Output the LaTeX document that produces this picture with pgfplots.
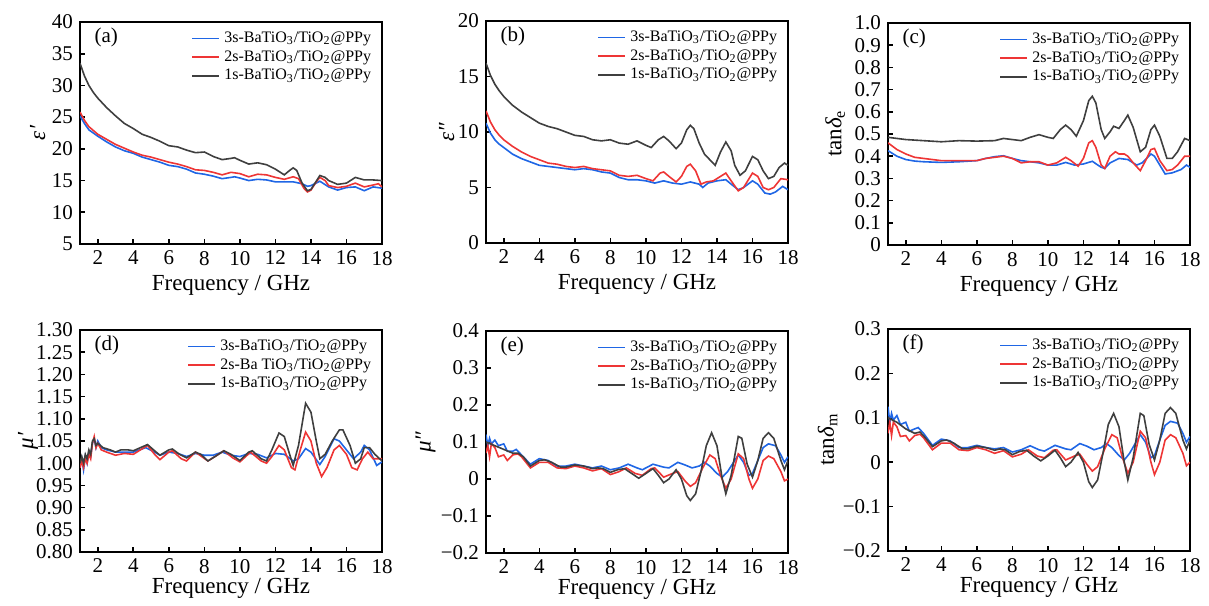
\documentclass[border=0pt]{standalone}
\usepackage{fontspec}
\setmainfont{Liberation Serif}
\usepackage{pgfplots}
\pgfplotsset{compat=1.18}
\definecolor{cblue}{HTML}{1F66E5}
\definecolor{cred}{HTML}{EE3535}
\definecolor{cgray}{HTML}{3F3F3F}
\pgfplotsset{
 panel/.style={
  scale only axis,width=151pt,height=111pt,
  xmin=1,xmax=18,xtick={2,4,...,18},
  axis line style={line width=0.9pt},
  tick align=inside,tick pos=left,major tick length=2.5pt,
  every tick/.style={line width=0.8pt,black},
  tick label style={font=\fontsize{10.5}{12}\selectfont},
  /pgf/number format/assume math mode=true,
  xlabel={Frequency / GHz},
  xlabel style={font=\fontsize{11.5}{13}\selectfont,at={(axis description cs:0.5,-0.165)},anchor=center},
  ylabel style={font=\fontsize{11.5}{13}\selectfont,anchor=center},
  legend style={at={(0.985,0.985)},anchor=north east,draw=none,
    font=\fontsize{8}{9}\selectfont,row sep=-1.5pt,inner sep=1pt},
  legend cell align=left,
  every axis plot/.append style={line width=0.8pt},
 },
 toprow/.style={xlabel style={at={(axis description cs:0.5,-0.185)}}},
}
\newcommand{\lab}[1]{\node[anchor=west,font=\fontsize{10.5}{12}\selectfont] at (rel axis cs:0.025,0.93) {#1};}
\newcommand{\ent}[1]{#1s-BaTiO\textsubscript{3}/TiO\textsubscript{2}@PPy}
\newcommand{\sub}[1]{\raisebox{-0.35ex}{\fontsize{8}{8}\selectfont #1}}
% legend lines: stroke colour written straight into the page, past the colour stack
\makeatletter
\newcommand{\limg}[3]{\addlegendimage{legend image code/.code={%
  \pgfsys@color@rgb@stroke{#1}{#2}{#3}\pgfsetlinewidth{0.9pt}%
  \pgfpathmoveto{\pgfpointorigin}\pgfpathlineto{\pgfpoint{13.5pt}{0pt}}%
  \pgfusepath{stroke}}}}
\makeatother
\newcommand{\keys}{\limg{0.122}{0.4}{0.898}\limg{0.933}{0.208}{0.208}\limg{0.247}{0.247}{0.247}}

\begin{document}
\begin{tikzpicture}
\path[use as bounding box] (0,0) rectangle (604.5pt,-302.5pt);

% (a) real permittivity
\begin{axis}[panel,toprow,at={(40pt,-11pt)},anchor=north west,
 ymin=5,ymax=40,ytick={5,10,...,40},
 ylabel={\itshape ε′},ylabel style={at={(axis description cs:-0.14,0.5)}}]
\keys
\addplot[color=cblue] coordinates {(1,25.2)(1.25,24)(1.5,23)(1.75,22.5)(2,22)(2.5,21.1)(3,20.3)(3.5,19.7)(4,19.3)(4.5,18.7)(5,18.3)(5.5,17.9)(6,17.4)(6.5,17.2)(7,16.8)(7.5,16.2)(8,16)(8.5,15.7)(9,15.3)(9.5,15.5)(9.7,15.6)(10,15.4)(10.5,15.0)(11,15.2)(11.5,15.1)(12,14.8)(12.5,14.8)(13,14.8)(13.5,14.5)(13.8,14.1)(14,14.2)(14.5,14.9)(15,14.0)(15.5,13.5)(16,13.9)(16.5,14.0)(17,13.4)(17.5,14.0)(18,13.8)};
\addplot[color=cred] coordinates {(1,25.8)(1.25,24.5)(1.5,23.5)(1.75,22.9)(2,22.3)(2.5,21.5)(3,20.7)(3.5,20.1)(4,19.5)(4.5,19)(5,18.7)(5.5,18.3)(6,17.9)(6.5,17.6)(7,17.2)(7.5,16.7)(8,16.6)(8.5,16.3)(9,15.9)(9.5,16.3)(10,16.1)(10.5,15.6)(11,16.0)(11.5,15.9)(12,15.5)(12.5,15.2)(13,15.6)(13.3,15.3)(13.6,13.8)(13.8,13.2)(14,13.5)(14.3,14.8)(14.5,15.5)(14.8,15.0)(15,14.2)(15.5,13.9)(16,14.1)(16.5,14.6)(17,14.0)(17.5,14.3)(17.8,14.5)(18,14.0)};
\addplot[color=cgray] coordinates {(1,33.5)(1.25,31.5)(1.5,30)(1.75,28.9)(2,28)(2.5,26.5)(3,25.2)(3.5,24)(4,23.2)(4.5,22.3)(5,21.8)(5.5,21.2)(6,20.5)(6.5,20.3)(7,19.8)(7.5,19.4)(8,19.5)(8.5,18.8)(9,18.3)(9.5,18.5)(9.7,18.6)(10,18.2)(10.5,17.6)(11,17.8)(11.5,17.5)(12,16.8)(12.5,15.9)(12.8,16.6)(13,17.0)(13.2,16.6)(13.5,14.6)(13.8,13.4)(14,13.6)(14.3,14.9)(14.5,15.8)(14.8,15.5)(15,15.0)(15.5,14.4)(16,14.6)(16.5,15.5)(17,15.1)(17.5,15.1)(18,15.0)};
\legend{\ent{3},\ent{2},\ent{1}}
\lab{(a)}
\end{axis}

% (b) imaginary permittivity
\begin{axis}[panel,toprow,at={(243pt,-10.5pt)},anchor=north west,
 ymin=0,ymax=20,ytick={0,5,...,20},
 ylabel={\itshape ε″},ylabel style={at={(axis description cs:-0.13,0.5)}}]
\keys
\addplot[color=cblue] coordinates {(1,10.8)(1.25,9.9)(1.5,9.3)(1.75,8.9)(2,8.6)(2.5,8.0)(3,7.6)(3.5,7.3)(4,7.0)(4.5,6.9)(5,6.8)(5.5,6.7)(6,6.6)(6.5,6.7)(7,6.6)(7.5,6.4)(8,6.3)(8.5,5.9)(9,5.7)(9.5,5.7)(10,5.6)(10.5,5.4)(11,5.6)(11.5,5.4)(12,5.3)(12.5,5.5)(13,5.3)(13.2,5.0)(13.5,5.4)(14,5.6)(14.5,5.7)(14.8,5.3)(15.2,4.8)(15.5,5.0)(16,5.6)(16.3,5.3)(16.7,4.5)(17,4.4)(17.3,4.6)(17.7,5.1)(18,4.8)};
\addplot[color=cred] coordinates {(1,11.9)(1.25,10.9)(1.5,10.2)(1.75,9.7)(2,9.3)(2.5,8.7)(3,8.2)(3.5,7.8)(4,7.5)(4.5,7.2)(5,7.1)(5.5,6.9)(6,6.8)(6.5,6.9)(7,6.7)(7.5,6.6)(8,6.5)(8.5,6.1)(9,6.0)(9.5,6.1)(10,5.8)(10.4,5.6)(10.8,6.3)(11,6.4)(11.3,6.0)(11.7,5.5)(12,6.0)(12.3,6.9)(12.5,7.1)(12.8,6.5)(13.1,5.3)(13.4,5.5)(13.8,5.6)(14.2,6.0)(14.5,6.3)(14.8,5.6)(15.2,4.7)(15.5,5.0)(16,6.3)(16.3,6.0)(16.6,5.0)(16.9,4.8)(17.2,5.0)(17.6,5.8)(18,5.7)};
\addplot[color=cgray] coordinates {(1,16.2)(1.25,15.1)(1.5,14.3)(1.75,13.7)(2,13.2)(2.5,12.4)(3,11.8)(3.5,11.3)(4,10.8)(4.5,10.5)(5,10.3)(5.5,10.0)(6,9.7)(6.5,9.6)(7,9.3)(7.5,9.2)(8,9.3)(8.5,9.0)(9,8.9)(9.5,9.2)(10,8.8)(10.3,8.6)(10.7,9.3)(11,9.6)(11.3,9.2)(11.7,8.5)(12,9.0)(12.3,10.2)(12.5,10.6)(12.7,10.3)(13,9.0)(13.3,8.0)(13.6,7.5)(13.9,7.0)(14.2,8.2)(14.5,9.1)(14.8,8.3)(15,7.0)(15.3,6.1)(15.6,6.5)(16,7.8)(16.3,7.5)(16.6,6.5)(16.9,5.8)(17.2,6.0)(17.5,6.8)(17.8,7.2)(18,7.0)};
\legend{\ent{3},\ent{2},\ent{1}}
\lab{(b)}
\end{axis}

% (c) dielectric loss tangent
\begin{axis}[panel,toprow,at={(444pt,-11.5pt)},anchor=north west,
 ymin=0,ymax=1,ytick={0,0.1,0.2,0.3,0.4,0.5,0.6,0.7,0.8,0.9,1.0},
 yticklabels={0,0.1,0.2,0.3,0.4,0.5,0.6,0.7,0.8,0.9,1.0},
 ylabel={tan{\itshape δ}\sub{e}},ylabel style={at={(axis description cs:-0.175,0.5)}}]
\keys
\addplot[color=cblue] coordinates {(1,0.425)(1.5,0.40)(2,0.385)(2.5,0.378)(3,0.375)(4,0.372)(5,0.375)(6,0.38)(6.5,0.39)(7,0.398)(7.5,0.402)(8,0.39)(8.5,0.38)(9,0.375)(9.5,0.37)(10,0.36)(10.5,0.36)(11,0.372)(11.5,0.36)(12,0.365)(12.5,0.377)(13,0.35)(13.2,0.345)(13.5,0.37)(14,0.39)(14.5,0.385)(15,0.36)(15.3,0.37)(15.8,0.41)(16,0.40)(16.3,0.36)(16.6,0.32)(17,0.325)(17.5,0.34)(17.8,0.36)(18,0.35)};
\addplot[color=cred] coordinates {(1,0.46)(1.5,0.43)(2,0.41)(2.5,0.395)(3,0.39)(3.5,0.385)(4,0.38)(5,0.38)(6,0.38)(6.5,0.39)(7,0.395)(7.5,0.40)(8,0.39)(8.5,0.37)(9,0.375)(9.5,0.375)(10,0.36)(10.5,0.37)(11,0.395)(11.3,0.38)(11.7,0.355)(12,0.39)(12.3,0.46)(12.5,0.47)(12.7,0.44)(13,0.36)(13.2,0.345)(13.5,0.40)(13.8,0.42)(14,0.41)(14.3,0.41)(14.5,0.40)(14.8,0.37)(15.2,0.335)(15.5,0.38)(15.8,0.43)(16,0.435)(16.3,0.38)(16.7,0.335)(17,0.34)(17.3,0.36)(17.7,0.40)(18,0.40)};
\addplot[color=cgray] coordinates {(1,0.485)(2,0.475)(3,0.47)(4,0.465)(5,0.47)(6,0.468)(7,0.47)(7.5,0.48)(8,0.475)(8.5,0.47)(9,0.485)(9.5,0.497)(10,0.485)(10.3,0.48)(10.7,0.52)(11,0.54)(11.3,0.52)(11.6,0.49)(12,0.56)(12.3,0.65)(12.5,0.67)(12.7,0.64)(13,0.52)(13.2,0.48)(13.5,0.51)(13.7,0.535)(14,0.525)(14.3,0.56)(14.5,0.585)(14.8,0.53)(15.2,0.42)(15.5,0.44)(15.8,0.52)(16,0.54)(16.3,0.49)(16.7,0.39)(17,0.39)(17.3,0.42)(17.7,0.48)(18,0.47)};
\legend{\ent{3},\ent{2},\ent{1}}
\lab{(c)}
\end{axis}

% (d) real permeability
\begin{axis}[panel,at={(40pt,-165pt)},anchor=north west,
 ymin=0.8,ymax=1.3,ytick={0.8,0.85,0.9,0.95,1.0,1.05,1.1,1.15,1.2,1.25,1.3},
 yticklabels={0.80,0.85,0.90,0.95,1.00,1.05,1.10,1.15,1.20,1.25,1.30},
 ylabel={\itshape μ′},ylabel style={at={(axis description cs:-0.172,0.5)}}]
\keys
\addplot[color=cblue] coordinates {(1,0.99)(1.1,1.01)(1.2,0.985)(1.3,1.015)(1.4,1.0)(1.5,1.025)(1.6,1.015)(1.7,1.045)(1.8,1.055)(1.9,1.035)(2,1.05)(2.2,1.035)(2.5,1.03)(3,1.025)(3.5,1.025)(4,1.025)(4.7,1.035)(5.2,1.025)(5.5,1.018)(6,1.025)(6.5,1.022)(7,1.015)(7.5,1.022)(8,1.018)(8.5,1.018)(9,1.025)(9.5,1.018)(10,1.015)(10.5,1.022)(11,1.02)(11.5,1.012)(12,1.022)(12.5,1.02)(13,1.005)(13.3,1.01)(13.7,1.033)(14,1.025)(14.5,0.997)(14.8,1.015)(15.3,1.055)(15.6,1.05)(16,1.03)(16.4,1.01)(16.8,1.025)(17,1.04)(17.3,1.03)(17.7,0.995)(18,1.003)};
\addplot[color=cred] coordinates {(1,0.99)(1.1,1.005)(1.2,0.99)(1.3,1.01)(1.4,1.0)(1.5,1.02)(1.6,1.01)(1.7,1.045)(1.8,1.06)(1.9,1.035)(2,1.045)(2.2,1.03)(2.5,1.025)(3,1.018)(3.5,1.022)(4,1.02)(4.4,1.03)(4.8,1.04)(5.2,1.02)(5.5,1.008)(6,1.025)(6.2,1.028)(6.7,1.01)(7,1.005)(7.5,1.025)(8.2,1.005)(8.6,1.015)(9.1,1.028)(9.6,1.012)(10,1.003)(10.6,1.025)(11.2,1.005)(11.5,1.0)(11.8,1.015)(12.2,1.04)(12.5,1.03)(12.9,0.99)(13.1,0.985)(13.4,1.03)(13.7,1.07)(14,1.05)(14.3,1.0)(14.6,0.97)(14.9,0.99)(15.3,1.03)(15.6,1.04)(16,1.02)(16.3,0.99)(16.6,0.985)(16.9,1.01)(17.2,1.025)(17.5,1.01)(18,1.01)};
\addplot[color=cgray] coordinates {(1,1.0)(1.1,1.015)(1.2,1.0)(1.3,1.02)(1.4,1.01)(1.5,1.03)(1.6,1.02)(1.7,1.05)(1.8,1.055)(1.9,1.04)(2,1.045)(2.3,1.035)(2.7,1.03)(3,1.025)(3.3,1.03)(3.7,1.03)(4,1.028)(4.4,1.035)(4.8,1.042)(5.2,1.028)(5.5,1.018)(6,1.03)(6.2,1.032)(6.6,1.02)(7,1.012)(7.5,1.025)(7.8,1.02)(8.2,1.005)(8.6,1.015)(9.1,1.028)(9.5,1.02)(10,1.006)(10.5,1.025)(10.7,1.028)(11.2,1.01)(11.5,1.005)(11.8,1.03)(12.2,1.068)(12.5,1.06)(12.8,1.02)(13,0.995)(13.3,1.04)(13.7,1.135)(14,1.115)(14.3,1.05)(14.5,1.01)(14.8,1.02)(15.2,1.05)(15.6,1.075)(15.8,1.075)(16.2,1.04)(16.5,1.0)(16.8,1.01)(17,1.035)(17.3,1.035)(17.6,1.02)(18,1.005)};
\legend{\ent{3},2s-Ba TiO\textsubscript{3}/TiO\textsubscript{2}@PPy,\ent{1}}
\lab{(d)}
\end{axis}

% (e) imaginary permeability
\begin{axis}[panel,at={(243pt,-165.5pt)},anchor=north west,
 ymin=-0.2,ymax=0.4,ytick={-0.2,-0.1,0,0.1,0.2,0.3,0.4},
 yticklabels={−0.2,−0.1,0,0.1,0.2,0.3,0.4},
 ylabel={\itshape μ″},ylabel style={at={(axis description cs:-0.2,0.5)}}]
\keys
\addplot[color=cblue] coordinates {(1,0.12)(1.1,0.09)(1.2,0.11)(1.3,0.095)(1.5,0.105)(1.7,0.09)(2,0.095)(2.2,0.075)(2.5,0.075)(2.7,0.08)(3,0.065)(3.5,0.04)(4,0.055)(4.5,0.05)(5,0.035)(5.5,0.035)(6,0.04)(6.5,0.035)(7,0.03)(7.5,0.035)(8,0.025)(8.5,0.03)(9,0.04)(9.5,0.03)(9.8,0.025)(10.4,0.04)(11,0.032)(11.3,0.03)(11.8,0.045)(12.2,0.038)(12.6,0.03)(13,0.035)(13.3,0.045)(13.6,0.035)(14,0.015)(14.3,0.005)(14.6,0.02)(15,0.05)(15.2,0.065)(15.5,0.045)(15.8,0.01)(16,0.015)(16.3,0.05)(16.6,0.085)(16.9,0.095)(17.3,0.09)(17.6,0.065)(17.8,0.045)(18,0.06)};
\addplot[color=cred] coordinates {(1,0.07)(1.1,0.09)(1.2,0.06)(1.3,0.095)(1.5,0.085)(1.7,0.06)(2,0.065)(2.2,0.05)(2.5,0.065)(2.8,0.068)(3,0.06)(3.5,0.03)(4,0.045)(4.5,0.045)(5,0.03)(5.5,0.028)(6,0.035)(6.5,0.03)(7,0.022)(7.5,0.028)(8,0.012)(8.5,0.02)(8.9,0.03)(9.4,0.015)(9.8,0.01)(10.3,0.028)(10.5,0.03)(11,0.005)(11.5,0.015)(11.8,0.02)(12.2,-0.005)(12.5,-0.02)(12.8,-0.01)(13.2,0.03)(13.6,0.065)(13.9,0.055)(14.2,0.01)(14.5,-0.025)(14.8,0.0)(15.2,0.068)(15.5,0.055)(15.8,0.0)(16,-0.025)(16.3,0.0)(16.6,0.05)(16.9,0.062)(17.2,0.055)(17.6,0.02)(17.8,-0.005)(18,0.0)};
\addplot[color=cgray] coordinates {(1,0.1)(1.5,0.09)(2,0.08)(2.5,0.07)(2.8,0.07)(3.1,0.06)(3.5,0.035)(4,0.05)(4.3,0.052)(4.7,0.045)(5.2,0.032)(5.5,0.032)(6,0.038)(6.5,0.035)(7,0.028)(7.3,0.03)(7.6,0.028)(8,0.018)(8.4,0.025)(8.8,0.028)(9.2,0.015)(9.6,0.002)(10,0.015)(10.4,0.028)(10.7,0.01)(11,-0.01)(11.3,0.0)(11.7,0.025)(12,0.0)(12.3,-0.045)(12.5,-0.058)(12.8,-0.04)(13.1,0.02)(13.4,0.09)(13.7,0.125)(14,0.09)(14.3,0.0)(14.5,-0.04)(14.8,0.01)(15.2,0.115)(15.4,0.11)(15.7,0.04)(16,0.005)(16.3,0.05)(16.6,0.11)(16.9,0.125)(17.2,0.11)(17.6,0.05)(17.8,0.025)(18,0.05)};
\legend{\ent{3},\ent{2},\ent{1}}
\lab{(e)}
\end{axis}

% (f) magnetic loss tangent
\begin{axis}[panel,at={(444pt,-164.5pt)},anchor=north west,
 ymin=-0.2,ymax=0.3,ytick={-0.2,-0.1,0,0.1,0.2,0.3},
 yticklabels={−0.2,−0.1,0,0.1,0.2,0.3},
 ylabel={tan{\itshape δ}\sub{m}},ylabel style={at={(axis description cs:-0.2,0.5)}}]
\keys
\addplot[color=cblue] coordinates {(1,0.125)(1.1,0.09)(1.2,0.11)(1.3,0.095)(1.5,0.105)(1.7,0.085)(2,0.09)(2.2,0.07)(2.5,0.075)(2.7,0.078)(3,0.065)(3.5,0.038)(4,0.052)(4.5,0.048)(5,0.033)(5.5,0.033)(6,0.038)(6.5,0.033)(7,0.03)(7.5,0.033)(8,0.023)(8.5,0.028)(9,0.037)(9.5,0.028)(9.8,0.025)(10.4,0.038)(11,0.03)(11.3,0.028)(11.8,0.042)(12.2,0.036)(12.6,0.028)(13,0.033)(13.3,0.042)(13.6,0.033)(14,0.015)(14.3,0.005)(14.6,0.02)(15,0.048)(15.2,0.062)(15.5,0.045)(15.8,0.01)(16,0.015)(16.3,0.05)(16.6,0.083)(16.9,0.092)(17.3,0.088)(17.6,0.065)(17.8,0.045)(18,0.058)};
\addplot[color=cred] coordinates {(1,0.065)(1.1,0.09)(1.2,0.06)(1.3,0.09)(1.5,0.08)(1.7,0.058)(2,0.06)(2.2,0.048)(2.5,0.06)(2.8,0.063)(3,0.055)(3.5,0.028)(4,0.043)(4.5,0.043)(5,0.028)(5.5,0.026)(6,0.033)(6.5,0.028)(7,0.02)(7.5,0.026)(8,0.012)(8.5,0.018)(8.9,0.028)(9.4,0.014)(9.8,0.01)(10.3,0.027)(10.5,0.028)(11,0.005)(11.5,0.014)(11.8,0.018)(12.2,-0.005)(12.5,-0.02)(12.8,-0.01)(13.2,0.03)(13.6,0.062)(13.9,0.055)(14.2,0.01)(14.5,-0.025)(14.8,0.0)(15.2,0.07)(15.5,0.055)(15.8,0.0)(16,-0.028)(16.3,0.0)(16.6,0.05)(16.9,0.062)(17.2,0.055)(17.6,0.02)(17.8,-0.008)(18,0.0)};
\addplot[color=cgray] coordinates {(1,0.1)(1.5,0.09)(2,0.075)(2.5,0.065)(2.8,0.068)(3.1,0.055)(3.5,0.035)(4,0.048)(4.3,0.05)(4.7,0.043)(5.2,0.03)(5.5,0.03)(6,0.036)(6.5,0.033)(7,0.027)(7.3,0.03)(7.6,0.028)(8,0.017)(8.4,0.024)(8.8,0.027)(9.2,0.014)(9.6,0.003)(10,0.014)(10.4,0.027)(10.7,0.01)(11,-0.01)(11.3,0.0)(11.7,0.022)(12,0.0)(12.3,-0.044)(12.5,-0.057)(12.8,-0.04)(13.1,0.02)(13.4,0.085)(13.7,0.11)(14,0.08)(14.3,0.0)(14.5,-0.04)(14.8,0.01)(15.2,0.11)(15.4,0.105)(15.7,0.04)(16,0.005)(16.3,0.05)(16.6,0.11)(16.9,0.123)(17.2,0.11)(17.6,0.05)(17.8,0.03)(18,0.05)};
\legend{\ent{3},\ent{2},\ent{1}}
\lab{(f)}
\end{axis}
\end{tikzpicture}
\end{document}
